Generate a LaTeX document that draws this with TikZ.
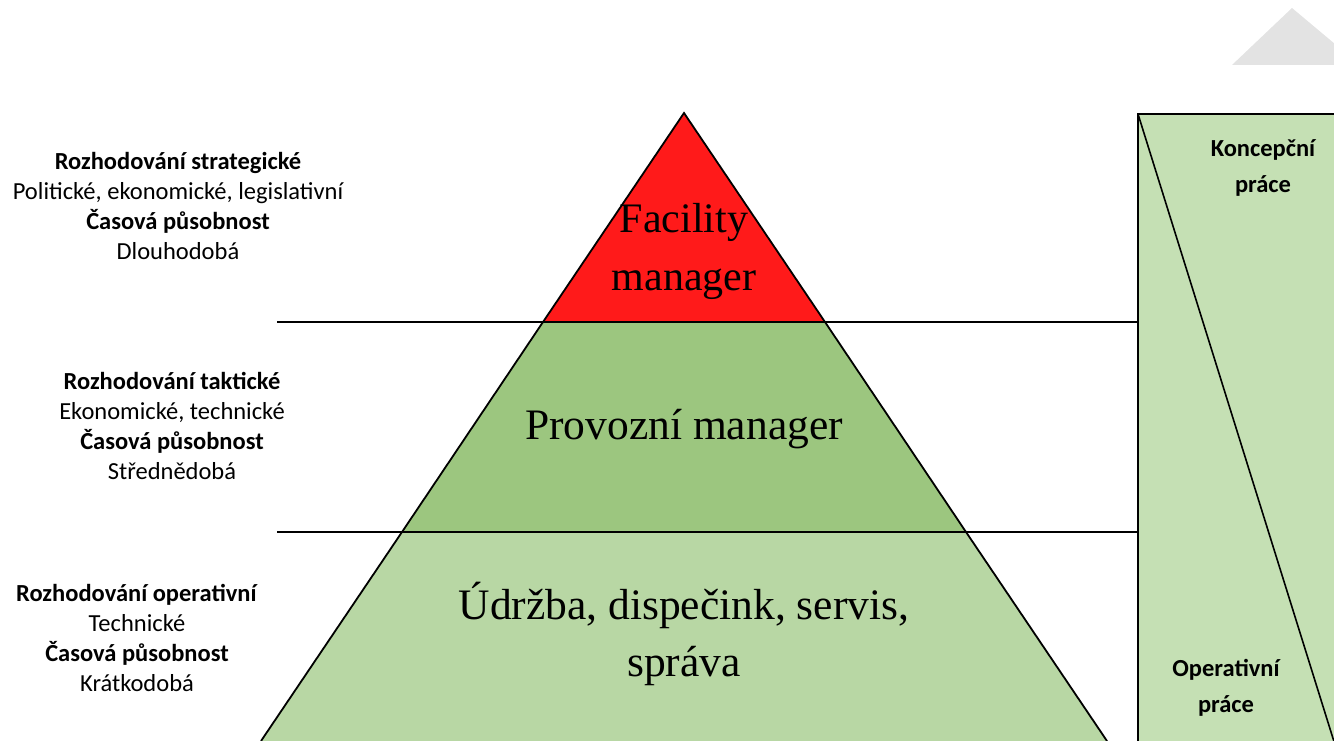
\documentclass[tikz,border=0pt]{standalone}
\usepackage{fontspec}
\setmainfont{Liberation Serif}
\newfontfamily\calfont{Carlito}
\definecolor{topred}{HTML}{FF1A1A}
\definecolor{midgreen}{HTML}{9CC67F}
\definecolor{lowgreen}{HTML}{B8D7A4}
\definecolor{boxgreen}{HTML}{C5E0B4}
\definecolor{lightgray}{HTML}{E3E3E3}
\tikzset{
  outline/.style={draw=black, line width=1.8pt, line join=miter},
  pyrtext/.style={font=\fontsize{43.5}{57}\selectfont, align=center, inner sep=0pt},
  sidetext/.style={font=\calfont\fontsize{24.5}{30}\selectfont, align=center, inner sep=0pt},
  worktext/.style={font=\calfont\bfseries\fontsize{24.5}{36}\selectfont, align=center, inner sep=0pt}
}
\begin{document}
\begin{tikzpicture}[x=1pt,y=-1pt]
\useasboundingbox (0,0) rectangle (1334,741);
\clip (0,0) rectangle (1334,741);
% gray triangle top right
\fill[lightgray] (1232,65) -- (1292,8) -- (1360,65) -- cycle;
% separator lines
\coordinate (l1a) at (277,322); \coordinate (l1b) at (1138,322);
\coordinate (l2a) at (277,532); \coordinate (l2b) at (1138,532);
\draw[line width=1.6pt] (l1a) -- (l1b);
\draw[line width=1.6pt] (l2a) -- (l2b);
% pyramid
\filldraw[fill=lowgreen, outline] (261,741) -- (402,532) -- (966,532) -- (1107,741);
\filldraw[fill=midgreen, outline] (402,532) -- (543,322) -- (825,322) -- (966,532) -- cycle;
\filldraw[fill=topred, outline] (543,322) -- (684,113) -- (825,322) -- cycle;
% right box
\filldraw[fill=boxgreen, outline] (1138,114) rectangle (1345,750);
\draw[line width=1.6pt] (1138,114) -- (1336,748);
% pyramid texts
\node[pyrtext, font=\fontsize{42}{58}\selectfont] (fm) at (684,251) {Facility\\manager};
\node[pyrtext] (pm) at (684,429) {Provozní manager};
\node[pyrtext] (ud) at (684,634) {Údržba, dispečink, servis,\\správa};
% left texts
\node[sidetext] (s1) at (178,206) {\textbf{Rozhodování strategické}\\Politické, ekonomické, legislativní\\\textbf{Časová působnost}\\Dlouhodobá};
\node[sidetext] (s2) at (172,426) {\textbf{Rozhodování taktické}\\Ekonomické, technické\\\textbf{Časová působnost}\\Střednědobá};
\node[sidetext] (s3) at (137,638) {\textbf{Rozhodování operativní}\\Technické\\\textbf{Časová působnost}\\Krátkodobá};
% right box texts
\node[worktext] (kp) at (1263,168) {Koncepční\\práce};
\node[worktext] (op) at (1226,688) {Operativní\\práce};
\end{tikzpicture}
\end{document}
